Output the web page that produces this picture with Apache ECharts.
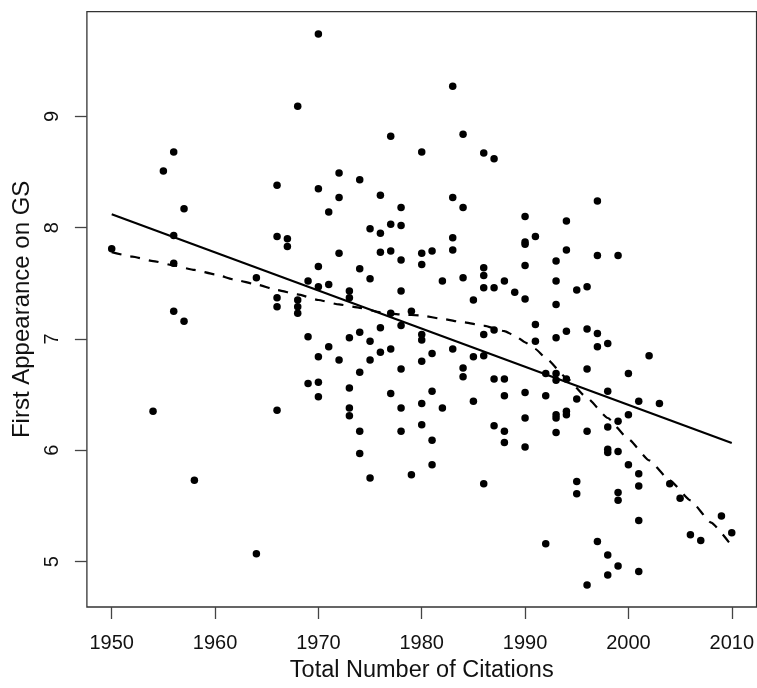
<!DOCTYPE html>
<html>
<head>
<meta charset="utf-8">
<script src="https://cdn.jsdelivr.net/npm/echarts@6/dist/echarts.min.js"></script>
<style>
  html, body { margin: 0; padding: 0; background: #ffffff; }
  #chart { width: 757px; height: 688px; }
</style>
</head>
<body>
<div id="chart"></div>
<script>
// Citation year of each paper, grouped: one entry per year
const yearGroups = [
  1950, 1954, 1955, 1956, 1957, 1958, 1964, 1966, 1967, 1968,
  1969, 1970, 1971, 1972, 1973, 1974, 1975, 1976, 1977, 1978,
  1979, 1980, 1981, 1982, 1983, 1984, 1985, 1986, 1987, 1988,
  1989, 1990, 1991, 1992, 1993, 1994, 1995, 1996, 1997, 1998,
  1999, 2000, 2001, 2002, 2003, 2004, 2005, 2006, 2007, 2009,
  2010
];

// First appearance on GS for the papers of each year above
const valueGroups = [
  [7.81],
  [6.35],
  [8.51],
  [8.68, 7.93, 7.68, 7.25],
  [8.17, 7.16],
  [5.73],
  [7.55, 5.07],
  [8.38, 7.92, 7.37, 7.29, 6.36],
  [7.90, 7.83],
  [9.09, 7.35, 7.29, 7.23],
  [7.52, 7.02, 6.60],
  [9.74, 8.35, 7.65, 7.47, 6.84, 6.61, 6.48],
  [8.14, 7.49, 6.93],
  [8.49, 8.27, 7.77, 6.81],
  [7.43, 7.37, 7.01, 6.56, 6.38, 6.31],
  [8.43, 7.63, 7.06, 6.70, 6.17, 5.97],
  [7.99, 7.54, 6.98, 6.81, 5.75],
  [8.29, 7.95, 7.78, 7.10, 6.88],
  [8.82, 8.03, 7.79, 7.23, 6.91, 6.51],
  [8.18, 8.02, 7.71, 7.43, 7.12, 6.73, 6.38, 6.17],
  [7.25, 5.78],
  [8.68, 7.77, 7.67, 7.04, 6.99, 6.80, 6.42, 6.23],
  [7.79, 6.87, 6.53, 6.09, 5.87],
  [7.52, 6.38],
  [9.27, 8.27, 7.91, 7.80, 6.91],
  [8.84, 8.18, 7.55, 6.74, 6.66],
  [7.35, 6.84, 6.44],
  [8.67, 7.64, 7.57, 7.46, 7.04, 6.85, 5.70],
  [8.62, 7.46, 7.08, 6.64, 6.22],
  [7.52, 6.64, 6.49, 6.17, 6.07],
  [7.42],
  [8.10, 7.87, 7.85, 7.66, 7.36, 6.52, 6.29, 6.03],
  [7.92, 7.13, 6.98],
  [6.69, 6.49, 5.16],
  [7.70, 7.52, 7.31, 7.01, 6.69, 6.63, 6.32, 6.29, 6.16],
  [8.06, 7.80, 7.07, 6.64, 6.35, 6.32],
  [7.44, 6.46, 5.72, 5.61],
  [7.47, 7.09, 6.73, 6.17, 4.79],
  [8.24, 7.75, 7.05, 6.93, 5.18],
  [6.96, 6.53, 6.21, 6.01, 5.98, 5.06, 4.88],
  [7.75, 6.26, 5.99, 5.62, 5.55, 4.96],
  [6.69, 6.32, 5.87],
  [6.44, 5.79, 5.68, 5.37, 4.91],
  [6.85],
  [6.42],
  [5.70],
  [5.57],
  [5.24],
  [5.19],
  [5.41],
  [5.26]
];

// Least-squares fit (solid line), end points
const fitYears = [1950, 2010];
const fitValues = [8.12, 6.065];

// Local smoother (dashed line)
const smoothYears = [
  1950, 1952, 1954, 1956, 1958, 1960, 1962, 1964, 1966, 1968,
  1970, 1972, 1974, 1976, 1978, 1980, 1982, 1984, 1986, 1988,
  1989, 1990, 1991, 1992, 1994, 1996, 1998, 2000, 2002, 2004,
  2006, 2008, 2010
];
const smoothValues = [
  7.78, 7.74, 7.70, 7.66, 7.62, 7.58, 7.53, 7.49, 7.44, 7.40,
  7.35, 7.31, 7.28, 7.24, 7.22, 7.21, 7.18, 7.15, 7.12, 7.07,
  7.03, 6.97, 6.91, 6.83, 6.65, 6.47, 6.29, 6.10, 5.91, 5.73,
  5.55, 5.35, 5.14
];

// Axis tick labels
const xTicks = [1950, 1960, 1970, 1980, 1990, 2000, 2010];
const yTicks = [5, 6, 7, 8, 9];

const fontFamily = "'Liberation Sans', Arial, Helvetica, sans-serif";

const scatterData = [];
yearGroups.forEach((yr, i) => {
  valueGroups[i].forEach(v => scatterData.push([yr, v]));
});
const fitData = fitYears.map((x, i) => [x, fitValues[i]]);
const smoothData = smoothYears.map((x, i) => [x, smoothValues[i]]);

const chart = echarts.init(document.getElementById('chart'), null, { renderer: 'canvas' });
chart.setOption({
  animation: false,
  backgroundColor: '#ffffff',
  grid: {
    left: 86.9, right: -0.5, top: 11.7, bottom: 77.3,
    show: true, borderColor: '#333333', borderWidth: 1.3,
    backgroundColor: 'transparent'
  },
  xAxis: {
    type: 'value',
    min: 1947.6, max: 2012.4,
    name: 'Total Number of Citations',
    nameLocation: 'middle',
    nameGap: 52,
    nameTextStyle: { fontSize: 23.5, color: '#111111', fontFamily: fontFamily },
    axisLine: { show: false },
    splitLine: { show: false },
    axisTick: {
      show: true, inside: false, length: 12, customValues: xTicks,
      lineStyle: { color: '#444444', width: 1.3 }
    },
    axisLabel: {
      customValues: xTicks, margin: 26, fontSize: 20,
      color: '#111111', fontFamily: fontFamily,
      formatter: v => String(v)
    }
  },
  yAxis: {
    type: 'value',
    min: 4.592, max: 9.94,
    name: 'First Appearance on GS',
    nameLocation: 'middle',
    nameGap: 53,
    nameTextStyle: { fontSize: 24, color: '#111111', fontFamily: fontFamily },
    axisLine: { show: false },
    splitLine: { show: false },
    axisTick: {
      show: true, inside: false, length: 12, customValues: yTicks,
      lineStyle: { color: '#444444', width: 1.3 }
    },
    axisLabel: {
      customValues: yTicks, margin: 24, fontSize: 20, rotate: 90,
      color: '#111111', fontFamily: fontFamily,
      formatter: v => String(v)
    }
  },
  series: [
    {
      type: 'scatter',
      data: scatterData,
      symbol: 'circle',
      symbolSize: 7.5,
      itemStyle: { color: '#000000', opacity: 1 },
      z: 2
    },
    {
      type: 'line',
      data: fitData,
      symbol: 'none',
      lineStyle: { color: '#000000', width: 2.2, type: 'solid' },
      z: 3
    },
    {
      type: 'line',
      data: smoothData,
      symbol: 'none',
      smooth: 0.15,
      smoothMonotone: 'x',
      lineStyle: { color: '#000000', width: 2.2, type: [10, 9] },
      z: 3
    }
  ]
});
</script>
</body>
</html>
